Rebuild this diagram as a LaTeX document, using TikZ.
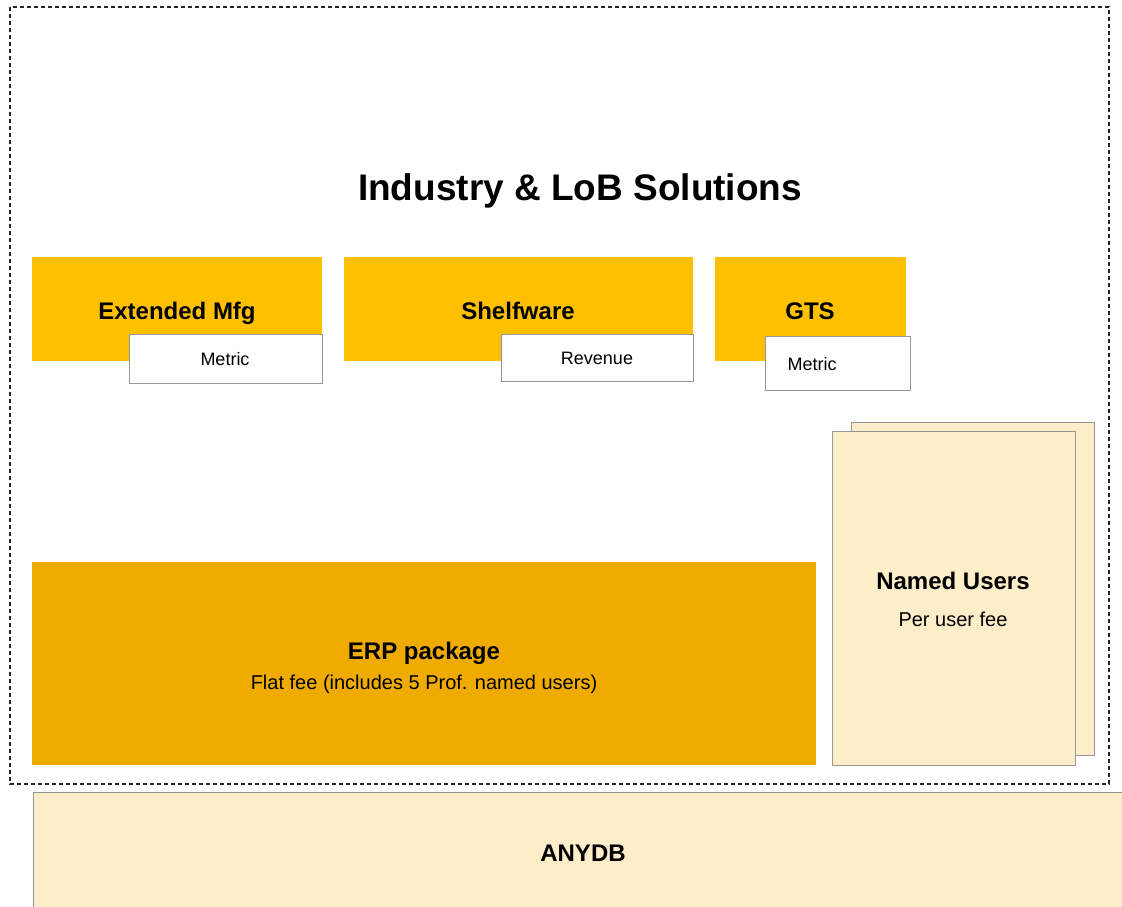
\documentclass[tikz,border=0pt]{standalone}
\usepackage{fontspec}
\setmainfont{Liberation Sans}
\definecolor{gold}{RGB}{255,192,0}
\definecolor{darkgold}{RGB}{239,171,0}
\definecolor{cream}{RGB}{253,237,200}
\definecolor{edge}{RGB}{150,150,150}
\tikzset{
  box/.style={draw=none, rectangle, inner sep=0pt, anchor=north west},
  goldbox/.style={box, fill=gold},
  tagbox/.style={box, draw=edge, line width=1.1pt, fill=white},
  creambox/.style={box, draw=edge, line width=1.1pt, fill=cream},
  bigtxt/.style={font=\fontsize{24}{28}\selectfont\bfseries, inner sep=0pt},
  smalltxt/.style={font=\fontsize{18}{22}\selectfont, inner sep=0pt},
  midtxt/.style={font=\fontsize{20}{24}\selectfont, inner sep=0pt},
}
\begin{document}
\begin{tikzpicture}[x=1pt,y=-1pt]
\useasboundingbox (0,0) rectangle (1122,906);
\clip (0,0) rectangle (1122,906);
\fill[white] (0,0) rectangle (1122,906);
% outer dashed frame
\draw[line width=1.2pt, black!85, dash pattern=on 4pt off 3pt] (10,7) rectangle (1109,784);
% title
\node[font=\fontsize{37}{42}\selectfont\bfseries, inner sep=0pt] (title) at (580,191) {Industry \& LoB Solutions};
% top boxes
\node[goldbox, minimum width=290, minimum height=104] (ext) at (32,257) {};
\node[bigtxt] (extl) at (177,313) {Extended Mfg};
\node[tagbox, minimum width=193, minimum height=49] (extm) at (129,334) {};
\node[smalltxt] (extml) at (225,359) {Metric};

\node[goldbox, minimum width=349, minimum height=104] (shelf) at (344,257) {};
\node[bigtxt] (shelfl) at (518,311) {Shelfware};
\node[tagbox, minimum width=192, minimum height=47] (shelfr) at (501,334) {};
\node[smalltxt] (shelfrl) at (597,358) {Revenue};

\node[goldbox, minimum width=191, minimum height=104] (gts) at (715,257) {};
\node[bigtxt] (gtsl) at (810,311) {GTS};
\node[tagbox, minimum width=145, minimum height=54] (gtsm) at (765,336) {};
\node[smalltxt] (gtsml) at (812,364) {Metric};

% named users cards
\node[creambox, minimum width=243, minimum height=333] (nuback) at (851,422) {};
\node[creambox, minimum width=243, minimum height=334] (nufront) at (832,431) {};
\node[bigtxt] (nul) at (953,581) {Named Users};
\node[midtxt] (nus) at (953,619) {Per user fee};

% ERP
\node[box, fill=darkgold, minimum width=784, minimum height=203] (erp) at (32,562) {};
\node[bigtxt] (erpl) at (424,653) {ERP package};
\node[midtxt] (erps) at (424,684) {Flat fee (includes 5 Prof. named users)};

% ANYDB
\node[creambox, minimum width=1110, minimum height=130] (db) at (33,792) {};
\node[bigtxt] (dbl) at (583,853) {ANYDB};
\end{tikzpicture}
\end{document}
